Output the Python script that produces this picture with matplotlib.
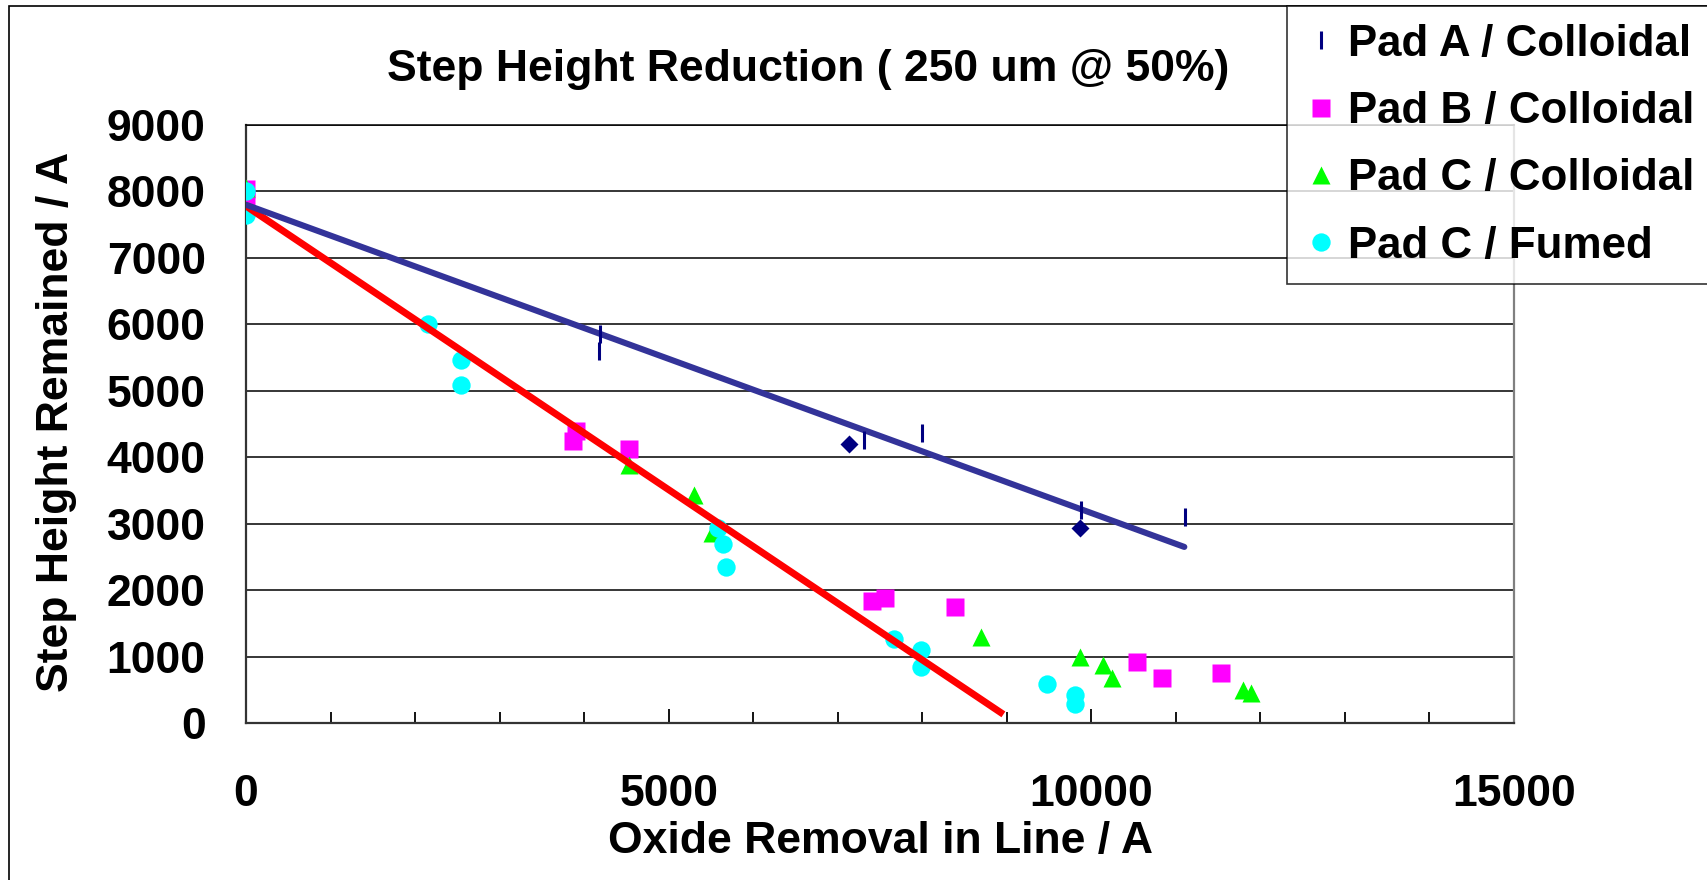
import matplotlib
matplotlib.use("Agg")
import matplotlib.pyplot as plt
from matplotlib.patches import Rectangle
from matplotlib.lines import Line2D

plt.rcParams['font.family'] = ['Liberation Sans', 'DejaVu Sans']
plt.rcParams['font.weight'] = 'bold'

# ---- data ----
padA_x = [4190, 4170, 7305, 8000, 9880, 11105]
padA_y = [5850, 5600, 4260, 4365, 3200, 3105]

padB_x = [0, 0, 3900, 3865, 4530, 7400, 7565, 8390, 10540, 10840, 11530]
padB_y = [8030, 7860, 4400, 4250, 4120, 1840, 1880, 1750, 920, 670, 750]

padC_x = [0, 4525, 5295, 5510, 8690, 9870, 10140, 10240, 11790, 11890]
padC_y = [8050, 3890, 3430, 2860, 1290, 990, 870, 670, 490, 450]

fumed_x = [0, 0, 2150, 2540, 2540, 5580, 5645, 5680, 7660, 7990, 7990, 9475, 9810, 9810]
fumed_y = [8000, 7640, 6000, 5460, 5080, 2940, 2690, 2350, 1260, 1100, 850, 590, 420, 290]

avg_x = [7135, 9870]
avg_y = [4200, 2930]

trendA_x = [0, 11100]
trendA_y = [7800, 2650]
trendB_x = [0, 8960]
trendB_y = [7780, 130]

labels = ["Pad A / Colloidal", "Pad B / Colloidal", "Pad C / Colloidal", "Pad C / Fumed"]
title = "Step Height Reduction ( 250 um @ 50%)"
xlabel = "Oxide Removal in Line / A"
ylabel = "Step Height Remained / A"
xticks = [0, 5000, 10000, 15000]
yticks = [0, 1000, 2000, 3000, 4000, 5000, 6000, 7000, 8000, 9000]

W, H = 1707, 880
FS = 32
fig = plt.figure(figsize=(W / 100, H / 100), dpi=100)
ax = fig.add_axes([246 / W, 1 - 723 / H, (1514 - 246) / W, (723 - 125) / H])

ms = 13.2
ax.plot(padB_x, padB_y, 's', color='#FF00FF', ms=ms, mec='none', zorder=3)
ax.plot(padC_x, padC_y, '^', color='#00FF00', ms=ms, mec='none', zorder=3.1)
ax.plot(fumed_x, fumed_y, 'o', color='#00FFFF', ms=ms, mec='none', zorder=3.2)
ax.plot(avg_x, avg_y, 'D', color='#000080', ms=9.6, mec='none', zorder=3.3)
ax.plot(trendB_x, trendB_y, '-', color='#FF0000', lw=5, solid_capstyle='butt', zorder=4)
ax.plot(trendA_x, trendA_y, '-', color='#333399', lw=4.4, solid_capstyle='round', zorder=4)
ax.plot(padA_x, padA_y, '|', color='#000080', ms=13, mew=2.2, zorder=5)

ax.set_xlim(0, 15000)
ax.set_ylim(0, 9000)
ax.set_xticks(xticks)
ax.set_xticks(range(0, 15001, 1000), minor=True)
ax.set_yticks(yticks)
ax.tick_params(axis='x', which='major', direction='in', length=10, width=1.3, pad=36.5, labelsize=FS)
ax.tick_params(axis='x', which='minor', direction='in', length=8, width=1.3)
ax.tick_params(axis='y', which='major', length=0, pad=29, labelsize=FS)
ax.yaxis.grid(True, color='black', lw=1.1)
ax.set_axisbelow(True)
for s in ['left', 'bottom']:
    ax.spines[s].set_color('#333333')
    ax.spines[s].set_linewidth(1.6)
ax.spines['top'].set_color('black')
ax.spines['top'].set_linewidth(1.1)
ax.spines['right'].set_color('#808080')
ax.spines['right'].set_linewidth(1.6)

fig.text(808 / W, 1 - 69 / H, title, ha='center', va='center', fontsize=FS, fontweight='bold')
fig.text(880 / W, 1 - 841 / H, xlabel, ha='center', va='center', fontsize=FS, fontweight='bold')
fig.text(57 / W, 1 - 422 / H, ylabel, ha='center', va='center', rotation=90, fontsize=FS, fontweight='bold')

# figure border
fig.patches.append(Rectangle((9 / W, -0.05), 1.2, 1 - 6 / H + 0.05, transform=fig.transFigure,
                             fill=False, ec='black', lw=1.2, zorder=0))

handles = [
    Line2D([], [], ls='none', marker='|', color='#000080', ms=13, mew=2.2),
    Line2D([], [], ls='none', marker='s', color='#FF00FF', ms=ms, mec='none'),
    Line2D([], [], ls='none', marker='^', color='#00FF00', ms=ms, mec='none'),
    Line2D([], [], ls='none', marker='o', color='#00FFFF', ms=ms, mec='none'),
]
leg = fig.legend(handles, labels, loc='upper left', bbox_to_anchor=(1287 / W, 1 - 6 / H),
                 bbox_transform=fig.transFigure, borderaxespad=0,
                 prop={'weight': 'bold', 'size': 31.6}, frameon=True, fancybox=False,
                 edgecolor='black', borderpad=0.4, labelspacing=0.6, handlelength=0.75,
                 handletextpad=0.25)
leg.get_frame().set_linewidth(1.2)

fig.savefig('out.png', dpi=100)
